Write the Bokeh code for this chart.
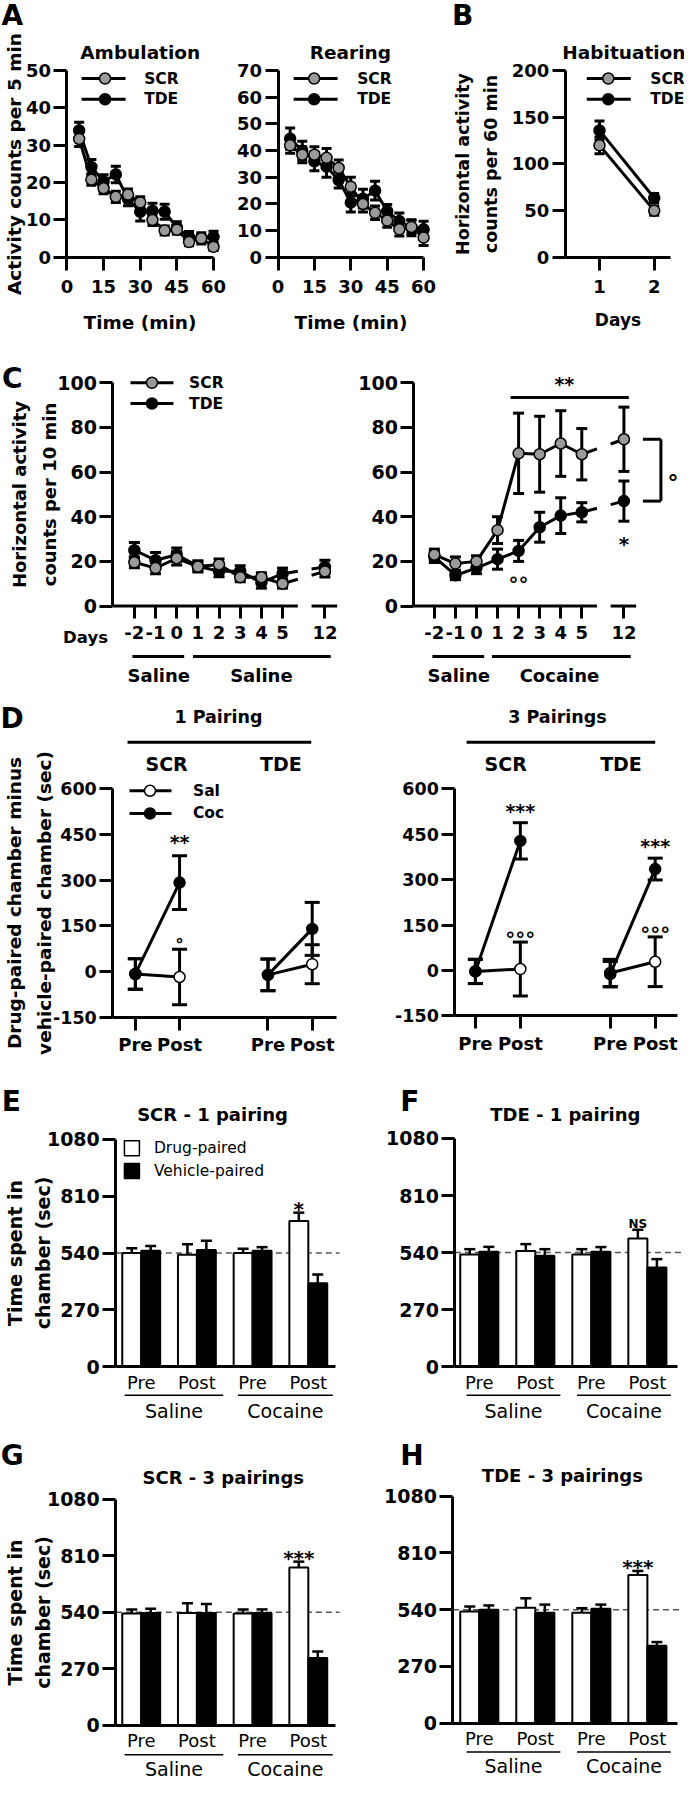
import math
from bokeh.plotting import figure
from bokeh.models import Range1d, LinearAxis, FixedTicker
from bokeh.core.properties import value
from bokeh.embed import file_html
from bokeh.resources import INLINE

# ---------------- data ----------------
amb_time = [5, 10, 15, 20, 25, 30, 35, 40, 45, 50, 55, 60]
amb_scr = [31.7, 20.8, 18.5, 16.2, 16.8, 14.7, 10.0, 7.2, 7.4, 4.1, 5.1, 2.8]
amb_scr_err = [2.0, 1.5, 1.5, 1.5, 1.5, 1.5, 1.5, 1.2, 1.2, 1.0, 1.0, 1.0]
amb_tde = [34.0, 24.2, 20.3, 22.2, 15.6, 12.2, 12.5, 12.2, 8.0, 5.4, 5.1, 5.5]
amb_tde_err = [2.2, 2.0, 1.8, 2.2, 1.8, 2.5, 2.0, 2.0, 1.5, 1.5, 1.5, 1.5]

rear_time = [5, 10, 15, 20, 25, 30, 35, 40, 45, 50, 55, 60]
rear_scr = [42.0, 38.5, 38.5, 37.3, 33.5, 26.5, 20.0, 16.7, 13.8, 10.5, 11.4, 7.4]
rear_scr_err = [3.0, 3.0, 3.0, 3.5, 3.0, 3.5, 3.0, 2.5, 2.5, 2.5, 2.5, 3.0]
rear_tde = [44.5, 40.0, 36.0, 34.0, 29.0, 20.5, 22.0, 25.0, 17.3, 13.6, 11.1, 10.5]
rear_tde_err = [4.0, 3.5, 3.5, 4.0, 3.0, 3.5, 3.5, 3.5, 2.5, 3.0, 3.0, 3.0]

hab_days = [1, 2]
hab_scr = [120.0, 50.0]
hab_scr_err = [9.0, 5.0]
hab_tde = [136.0, 63.5]
hab_tde_err = [10.0, 5.0]

c_day_labels = ["-2", "-1", "0", "1", "2", "3", "4", "5", "12"]
c_pos = [0, 1, 2, 3, 4, 5, 6, 7, 9]
c_sal_scr = [19.6, 17.0, 21.4, 17.7, 18.6, 12.9, 12.9, 10.0, 15.5]
c_sal_scr_err = [2.5, 2.5, 3.0, 2.0, 2.5, 2.0, 2.0, 2.0, 2.5]
c_sal_tde = [25.0, 20.5, 23.0, 17.8, 15.6, 15.6, 10.5, 14.5, 17.5]
c_sal_tde_err = [3.5, 3.5, 3.0, 2.5, 2.5, 2.5, 2.5, 2.5, 3.0]
c_coc_scr = [23.0, 19.0, 20.0, 34.0, 68.4, 68.0, 72.8, 68.0, 74.7]
c_coc_scr_err = [2.5, 3.0, 2.5, 6.0, 18.0, 17.0, 14.7, 11.5, 14.4]
c_coc_tde = [22.0, 13.8, 17.0, 21.0, 24.7, 35.3, 40.5, 42.0, 47.0]
c_coc_tde_err = [2.5, 2.0, 2.5, 4.5, 4.7, 6.7, 8.0, 4.3, 9.0]

d_sessions = ["Pre", "Post", "Pre", "Post"]
d_pos = [0, 1, 3, 4]
d1_sal = [-8.0, -18.0, -11.0, 24.0]
d1_sal_err = [50.0, 91.0, 52.0, 64.0]
d1_coc = [-8.0, 292.0, -11.0, 140.0]
d1_coc_err = [50.0, 88.0, 52.0, 87.0]
d3_sal = [-3.0, 5.0, -8.0, 29.0]
d3_sal_err = [40.0, 89.0, 45.0, 82.0]
d3_coc = [-3.0, 428.0, -12.0, 335.0]
d3_coc_err = [40.0, 60.0, 42.0, 36.0]

bar_sessions = ["Pre", "Post", "Pre", "Post"]
bar_pos = [0, 1, 2, 3]
chance_level = 540
e_drug = [540, 532, 540, 692]
e_drug_err = [23, 50, 20, 40]
e_veh = [551, 554, 551, 397]
e_veh_err = [23, 44, 17, 41]
f_drug = [531, 547, 531, 606]
f_drug_err = [25, 33, 25, 42]
f_veh = [544, 525, 544, 469]
f_veh_err = [23, 31, 22, 40]
g_drug = [533, 536, 533, 753]
g_drug_err = [20, 46, 19, 28]
g_veh = [536, 536, 536, 321]
g_veh_err = [20, 43, 17, 31]
h_drug = [531, 549, 525, 705]
h_drug_err = [24, 45, 22, 19]
h_veh = [539, 525, 544, 368]
h_veh_err = [21, 39, 20, 18]

# ---------------- geometry ----------------
W, H = 684, 1784
KX, KY = W / 700.0, H / 1806.0
FONT = "DejaVu Sans"
GRAY = "#9a9a9a"


def sx(xr):
    return xr * KX


def sy(yr):
    return H - yr * KY


def lin_range(v0, p0, v1, p1, total):
    s = (v1 - v0) / (p1 - p0)
    start = v0 - p0 * s
    return Range1d(start=start, end=start + total * s)


XR, YR, SCL = {}, {}, {}


def panel(name, xv0, xp0, xv1, xp1, yv0, yp0, yv1, yp1):
    X0, X1, Y0, Y1 = sx(xp0), sx(xp1), sy(yp0), sy(yp1)
    XR[name] = lin_range(xv0, X0, xv1, X1, W)
    YR[name] = lin_range(yv0, Y0, yv1, Y1, H)
    SCL[name] = ((xv1 - xv0) / (X1 - X0), (yv1 - yv0) / (Y1 - Y0))


panel("A1", 0, 68, 60, 218, 0, 260, 50, 71)
panel("A2", 0, 284, 60, 433, 0, 260, 70, 71)
panel("B", 1, 613, 2, 669, 0, 260, 200, 71)
panel("C1", 0, 137, 9, 332, 0, 613, 100, 387)
panel("C2", 0, 444, 9, 638, 0, 613, 100, 387)
panel("D1", 0, 138, 4, 319, 0, 983, 600, 798)
panel("D2", 0, 486, 4, 670, 0, 982, 600, 798)
panel("E", 0, 144, 3, 315, 0, 1383, 1080, 1153)
panel("F", 0, 490, 3, 662, 0, 1383, 1080, 1152)
panel("G", 0, 144, 3, 315, 0, 1746, 1080, 1517)
panel("H", 0, 490, 3, 662, 0, 1744, 1080, 1514)
SCL["default"] = (700.0 / W, -1806.0 / H)

p = figure(width=W, height=H, x_range=Range1d(0, 700), y_range=Range1d(1806, 0),
           x_axis_type=None, y_axis_type=None, toolbar_location=None,
           output_backend="svg", min_border_left=0, min_border_right=0,
           min_border_top=0, min_border_bottom=0)
p.outline_line_color = None
p.background_fill_color = "white"
p.border_fill_color = "white"
p.extra_x_ranges = XR
p.extra_y_ranges = YR


def kw(name):
    return dict(x_range_name=name, y_range_name=name)


def T(name, x, y, s, size, bold=True, align="center", baseline="middle", dx=0, dy=0):
    ux, uy = SCL[name]
    p.text(x=[x + dx * ux], y=[y - dy * uy], text=[s], text_font=value(FONT),
           text_font_size=f"{size}px", text_font_style="bold" if bold else "normal",
           text_align=align, text_baseline=baseline, text_color="black", **kw(name))


def S(name, x0, y0, x1, y1, w=3, color="black", dash="solid"):
    p.segment(x0=[x0], y0=[y0], x1=[x1], y1=[y1], line_width=w, line_color=color,
              line_dash=dash, **kw(name))


def add_axis(side, name, loc, bounds, ticks, fs, labels=None, bold=True, tick_out=13,
             standoff=3, label=None, label_fs=18, label_standoff=4, line_height=1.2,
             line=True):
    ax = LinearAxis(fixed_location=loc, bounds=bounds, ticker=FixedTicker(ticks=ticks), **kw(name))
    ax.axis_line_width = 3
    ax.axis_line_color = "black" if line else None
    ax.major_tick_line_width = 3
    ax.major_tick_line_color = "black" if tick_out > 0 else None
    ax.major_tick_out = tick_out
    ax.major_tick_in = 0
    ax.minor_tick_out = 0
    ax.minor_tick_in = 0
    ax.major_label_standoff = standoff
    ax.major_label_text_font = FONT
    ax.major_label_text_font_style = "bold" if bold else "normal"
    ax.major_label_text_font_size = f"{fs}px"
    ax.major_label_text_color = "black"
    ax.major_label_overrides = {t: (labels[i] if labels else str(t)) for i, t in enumerate(ticks)}
    if label:
        ax.axis_label = label
        ax.axis_label_text_font = FONT
        ax.axis_label_text_font_style = "bold"
        ax.axis_label_text_font_size = f"{label_fs}px"
        ax.axis_label_text_color = "black"
        ax.axis_label_standoff = label_standoff
        ax.axis_label_text_line_height = line_height
    p.add_layout(ax, side)
    return ax


def err_series(name, xs, ys, es, fill, cap=11, size=11, lw=3, line=True, gap=None):
    lo = [y - e for y, e in zip(ys, es)]
    hi = [y + e for y, e in zip(ys, es)]
    p.segment(x0=xs, y0=lo, x1=xs, y1=hi, line_width=lw, line_color="black", **kw(name))
    p.scatter(x=list(xs) + list(xs), y=lo + hi, marker="dash", size=cap, line_width=lw,
              line_color="black", **kw(name))
    if line:
        if gap is None:
            p.line(x=xs, y=ys, line_width=3, line_color="black", **kw(name))
        else:
            p.line(x=xs[:-1], y=ys[:-1], line_width=3, line_color="black", **kw(name))
            xa, ya, xb, yb = xs[-2], ys[-2], xs[-1], ys[-1]

            def f(x):
                return ya + (yb - ya) * (x - xa) / (xb - xa)
            p.segment(x0=[xa, gap[1]], y0=[ya, f(gap[1])], x1=[gap[0], xb], y1=[f(gap[0]), yb],
                      line_width=3, line_color="black", **kw(name))
    p.scatter(x=xs, y=ys, marker="circle", size=size, fill_color=fill, line_color="black",
              line_width=1.5, **kw(name))


def legend_entry(xl0, xl1, xm, xt, y, fill, text, fs=15.5):
    S("default", xl0, y, xl1, y, w=3)
    p.scatter(x=[xm], y=[y], marker="circle", size=11, fill_color=fill, line_color="black",
              line_width=1.5)
    T("default", xt, y, text, fs, align="left")


# ---------------- panel letters ----------------
for letter, lx, ly in [("A", 12, 15), ("B", 473, 15), ("C", 12, 383), ("D", 12, 727),
                       ("E", 11, 1115), ("F", 419, 1115), ("G", 12, 1473), ("H", 421, 1473)]:
    T("default", lx, ly, letter, 28)

# ---------------- A: ambulation / rearing ----------------
T("default", 143, 53, "Ambulation", 18.5)
T("default", 358, 53, "Rearing", 18.5)
for nm in ("A1", "A2"):
    times = amb_time if nm == "A1" else rear_time
    tde = amb_tde if nm == "A1" else rear_tde
    tde_e = amb_tde_err if nm == "A1" else rear_tde_err
    scr = amb_scr if nm == "A1" else rear_scr
    scr_e = amb_scr_err if nm == "A1" else rear_scr_err
    err_series(nm, times, tde, tde_e, "black", cap=10)
    err_series(nm, times, scr, scr_e, GRAY, cap=10)
    add_axis("below", nm, 0, (0, 60), [0, 15, 30, 45, 60], 18, tick_out=13, standoff=10,
             label="Time (min)", label_fs=18.5, label_standoff=15)
add_axis("left", "A1", 0, (0, 50), [0, 10, 20, 30, 40, 50], 18,
         label="Activity counts per 5 min", label_fs=18.5, label_standoff=-3)
add_axis("left", "A2", 0, (0, 70), [0, 10, 20, 30, 40, 50, 60, 70], 18)
legend_entry(83, 128, 107, 147, 79, GRAY, "SCR")
legend_entry(83, 128, 107, 147, 100, "black", "TDE")
legend_entry(300, 345, 321, 365, 79, GRAY, "SCR")
legend_entry(300, 345, 321, 365, 100, "black", "TDE")

# ---------------- B: habituation ----------------
T("default", 638, 53, "Habituation", 18.5)
err_series("B", hab_days, hab_tde, hab_tde_err, "black", cap=10)
err_series("B", hab_days, hab_scr, hab_scr_err, GRAY, cap=10)
add_axis("left", "B", 0.375, (0, 200), [0, 50, 100, 150, 200], 18,
         label="Horizontal activity\ncounts per 60 min", label_fs=17.5, label_standoff=8,
         line_height=1.4)
add_axis("below", "B", 0, (0.375, 2.3), [1, 2], 18, tick_out=13, standoff=10,
         label="Days", label_fs=17, label_standoff=13)
legend_entry(600, 645, 622, 665, 79, GRAY, "SCR")
legend_entry(600, 645, 622, 665, 100, "black", "TDE")

# ---------------- C: locomotor sensitization ----------------
GAP = (7.72, 8.37)
for nm, scr, scr_e, tde, tde_e, yl in [
        ("C1", c_sal_scr, c_sal_scr_err, c_sal_tde, c_sal_tde_err, -1.015),
        ("C2", c_coc_scr, c_coc_scr_err, c_coc_tde, c_coc_tde_err, -0.97)]:
    S(nm, yl, 0, GAP[0], 0, w=3)
    S(nm, GAP[1], 0, 9.58, 0, w=3)
    err_series(nm, c_pos, tde, tde_e, "black", cap=11, gap=GAP)
    err_series(nm, c_pos, scr, scr_e, GRAY, cap=11, gap=GAP)
    add_axis("below", nm, 0, (c_pos[0], c_pos[-1]), c_pos, 18, labels=c_day_labels,
             tick_out=12, standoff=8, line=False)
add_axis("left", "C1", -1.015, (0, 100), [0, 20, 40, 60, 80, 100], 19,
         label="Horizontal activity\ncounts per 10 min", label_fs=18, label_standoff=-6,
         line_height=1.4)
add_axis("left", "C2", -0.97, (0, 100), [0, 20, 40, 60, 80, 100], 19)
legend_entry(133, 177, 155, 193, 387, GRAY, "SCR")
legend_entry(133, 177, 155, 193, 408, "black", "TDE")
T("default", 87, 645, "Days", 16.5)
for x0, x1, xt, lab in [(135, 188, 162, "Saline"), (197, 338, 267, "Saline"),
                        (442, 495, 469, "Saline"), (503, 645, 572, "Cocaine")]:
    S("default", x0, 664, x1, 664, w=3)
    T("default", xt, 683, lab, 18)
# significance marks on C (cocaine)
S("default", 522, 402, 643, 402, w=3)
T("default", 577, 388, "**", 19)
ux, uy = SCL["C2"]
bx0, bx1 = c_pos[-1] + 19 * ux, c_pos[-1] + 37 * ux
S("C2", bx0, c_coc_scr[-1], bx1, c_coc_scr[-1], w=3)
S("C2", bx0, c_coc_tde[-1], bx1, c_coc_tde[-1], w=3)
S("C2", bx1, c_coc_scr[-1], bx1, c_coc_tde[-1], w=3)
T("C2", bx1 + 12 * ux, (c_coc_scr[-1] + c_coc_tde[-1]) / 2, "°", 22, baseline="alphabetic", dy=12)
T("C2", c_pos[-1], c_coc_tde[-1] - c_coc_tde_err[-1], "*", 20, baseline="alphabetic", dy=23)
T("C2", c_pos[4], c_coc_tde[4] - c_coc_tde_err[4], "°°", 20, baseline="alphabetic", dy=23)

# ---------------- D: conditioned place preference score ----------------
for nm, sal, sal_e, coc, coc_e, title, cx, lx0, lx1, scx, tdx, yl, xe in [
        ("D1", d1_sal, d1_sal_err, d1_coc, d1_coc_err, "1 Pairing", 223, 130, 318, 170, 287, -0.51, 4.55),
        ("D2", d3_sal, d3_sal_err, d3_coc, d3_coc_err, "3 Pairings", 570, 477, 670, 517, 635, -0.457, 4.5)]:
    for k in (0, 2):
        xs = d_pos[k:k + 2]
        err_series(nm, xs, sal[k:k + 2], sal_e[k:k + 2], "white", cap=15)
        err_series(nm, xs, coc[k:k + 2], coc_e[k:k + 2], "black", cap=15)
    add_axis("left", nm, yl, (-150, 600), [-150, 0, 150, 300, 450, 600], 17.5,
             label=("Drug-paired chamber minus\nvehicle-paired chamber (sec)" if nm == "D1" else None),
             label_fs=18.5, label_standoff=-5, line_height=1.4)
    add_axis("below", nm, -150, (yl, xe), d_pos, 18, labels=d_sessions, tick_out=13, standoff=4)
    T("default", cx, 725, title, 17.5)
    S("default", lx0, 751, lx1, 751, w=3)
    T("default", scx, 773, "SCR", 19)
    T("default", tdx, 773, "TDE", 19)
legend_entry(132, 175, 153, 197, 800, "white", "Sal")
legend_entry(132, 175, 153, 197, 823, "black", "Coc")
T("D1", d_pos[1], d1_coc[1] + d1_coc_err[1], "**", 19, baseline="alphabetic", dy=-14)
T("D1", d_pos[1], d1_sal[1] + d1_sal_err[1], "°", 17, baseline="alphabetic", dy=-4)
T("D2", d_pos[1], d3_coc[1] + d3_coc_err[1], "***", 19, baseline="alphabetic", dy=-12)
T("D2", d_pos[1], d3_sal[1] + d3_sal_err[1], "°°°", 20, baseline="alphabetic", dy=-3)
T("D2", d_pos[3], d3_coc[3] + d3_coc_err[3], "***", 19, baseline="alphabetic", dy=-12)
T("D2", d_pos[3], d3_sal[3] + d3_sal_err[3], "°°°", 20, baseline="alphabetic", dy=-3)


# ---------------- E-H: time in chambers ----------------
def bar_panel(nm, drug, drug_e, veh, veh_e, yl, xe, title, tx, ty, ylab, ul_y, grp_y,
              sal_span, coc_span):
    ux, uy = SCL[nm]
    S(nm, yl, chance_level, xe + 4 * ux, chance_level, w=1.5, color="#555555", dash="6 4")
    xd = [g - 0.17 for g in bar_pos]
    xv = [g + 0.17 for g in bar_pos]
    for xs, vals, errs, fill in [(xd, drug, drug_e, "white"), (xv, veh, veh_e, "black")]:
        p.vbar(x=xs, top=vals, bottom=0, width=0.34, fill_color=fill, line_color="black",
               line_width=2, **kw(nm))
        hi = [v + e for v, e in zip(vals, errs)]
        p.segment(x0=xs, y0=vals, x1=xs, y1=hi, line_width=2.5, line_color="black", **kw(nm))
        p.scatter(x=xs, y=hi, marker="dash", size=11, line_width=2.5, line_color="black", **kw(nm))
    add_axis("left", nm, yl, (0, 1080), [0, 270, 540, 810, 1080], 19,
             label=ylab, label_fs=19, label_standoff=-10, line_height=1.25)
    add_axis("below", nm, 0, (yl, xe), bar_pos, 18, labels=bar_sessions, bold=False,
             tick_out=0, standoff=5)
    T("default", tx, ty, title, 18)
    for (x0, x1), lab in [(sal_span, "Saline"), (coc_span, "Cocaine")]:
        S("default", x0, ul_y, x1, ul_y, w=1.5)
        T("default", (x0 + x1) / 2, grp_y, lab, 19, bold=False)


bar_panel("E", e_drug, e_drug_err, e_veh, e_veh_err, -0.456, 3.49, "SCR - 1 pairing", 217, 1128,
          "Time spent in\nchamber (sec)", 1412, 1428, (127, 228), (243, 340))
bar_panel("F", f_drug, f_drug_err, f_veh, f_veh_err, -0.436, 3.54, "TDE - 1 pairing", 578, 1128,
          None, 1412, 1428, (477, 573), (590, 686))
bar_panel("G", g_drug, g_drug_err, g_veh, g_veh_err, -0.456, 3.49, "SCR - 3 pairings", 228, 1495,
          "Time spent in\nchamber (sec)", 1776, 1790, (127, 228), (243, 340))
bar_panel("H", h_drug, h_drug_err, h_veh, h_veh_err, -0.47, 3.54, "TDE - 3 pairings", 575, 1493,
          None, 1773, 1787, (477, 573), (590, 686))

# legend for E
p.scatter(x=[134.5, 134.5], y=[1162, 1185], marker="square", size=15,
          fill_color=["white", "black"], line_color="black", line_width=1.5)
T("default", 157, 1162, "Drug-paired", 15.5, bold=False, align="left")
T("default", 157, 1185, "Vehicle-paired", 15.5, bold=False, align="left")

# significance on bars
T("E", bar_pos[3] - 0.17, e_drug[3] + e_drug_err[3], "*", 20, baseline="alphabetic", dy=-4)
T("F", bar_pos[3] - 0.17, f_drug[3] + f_drug_err[3], "NS", 12, baseline="alphabetic", dy=-6)
T("G", bar_pos[3] - 0.17, g_drug[3] + g_drug_err[3], "***", 20, baseline="alphabetic", dy=-4)
T("H", bar_pos[3] - 0.17, h_drug[3] + h_drug_err[3], "***", 20, baseline="alphabetic", dy=-4)

open("out.html", "w").write(file_html(p, INLINE))
